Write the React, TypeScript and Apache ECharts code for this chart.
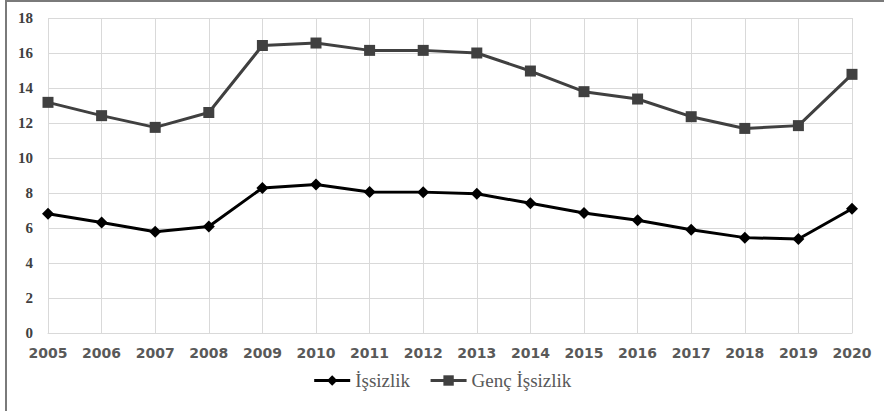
import React, { useEffect, useRef } from "react";
import * as echarts from "echarts";

const years = ["2005","2006","2007","2008","2009","2010","2011","2012","2013","2014","2015","2016","2017","2018","2019","2020"];
const issizlik = [6.82, 6.32, 5.79, 6.09, 8.29, 8.49, 8.06, 8.05, 7.96, 7.41, 6.86, 6.44, 5.9, 5.45, 5.37, 7.1];
const gencIssizlik = [13.18, 12.42, 11.75, 12.6, 16.43, 16.57, 16.15, 16.15, 16.0, 14.97, 13.79, 13.37, 12.36, 11.69, 11.85, 14.78];
const seriesNames = ["İşsizlik", "Genç İşsizlik"];

const SERIF = "'Liberation Serif', 'DejaVu Serif', serif";

export default function App() {
  const ref = useRef<HTMLDivElement>(null);
  useEffect(() => {
    document.body.style.margin = "0";
    const chart = echarts.init(ref.current!, null, { renderer: "svg" });
    chart.setOption({
      animation: false,
      backgroundColor: "#ffffff",
      grid: { left: 48, right: 32, top: 18, bottom: 78 },
      legend: {
        bottom: 16,
        left: "center",
        itemWidth: 36,
        itemHeight: 13,
        itemGap: 19,
        lineStyle: { width: 3 },
        textStyle: { fontFamily: SERIF, fontSize: 19, color: "#595959" },
        data: seriesNames,
      },
      xAxis: {
        type: "category",
        data: years,
        boundaryGap: false,
        axisLine: { lineStyle: { color: "#d9d9d9", width: 1 } },
        axisTick: { show: false },
        splitLine: { show: true, lineStyle: { color: "#d9d9d9", width: 1 } },
        axisLabel: {
          fontFamily: "'DejaVu Sans', sans-serif",
          fontWeight: "bold",
          fontSize: 14,
          color: "#595959",
          margin: 13,
        },
      },
      yAxis: {
        type: "value",
        min: 0,
        max: 18,
        interval: 2,
        axisLine: { show: false },
        axisTick: { show: false },
        splitLine: { lineStyle: { color: "#d9d9d9", width: 1 } },
        axisLabel: {
          fontFamily: SERIF,
          fontWeight: "bold",
          fontSize: 15,
          color: "#404040",
          margin: 15,
        },
      },
      series: [
        {
          name: seriesNames[0],
          type: "line",
          data: issizlik,
          symbol: "diamond",
          symbolSize: 12,
          lineStyle: { color: "#000000", width: 3 },
          itemStyle: { color: "#000000" },
        },
        {
          name: seriesNames[1],
          type: "line",
          data: gencIssizlik,
          symbol: "rect",
          symbolSize: 11,
          lineStyle: { color: "#404040", width: 3 },
          itemStyle: { color: "#404040" },
        },
      ],
      graphic: [
        { type: "line", shape: { x1: 6, y1: 0, x2: 6, y2: 411 }, style: { stroke: "#7a7a7a", lineWidth: 2 } },
        { type: "line", shape: { x1: 5, y1: 1, x2: 884, y2: 1 }, style: { stroke: "#7a7a7a", lineWidth: 2 } },
      ],
    });
    return () => chart.dispose();
  }, []);
  return <div ref={ref} style={{ width: 884, height: 411 }} />;
}
